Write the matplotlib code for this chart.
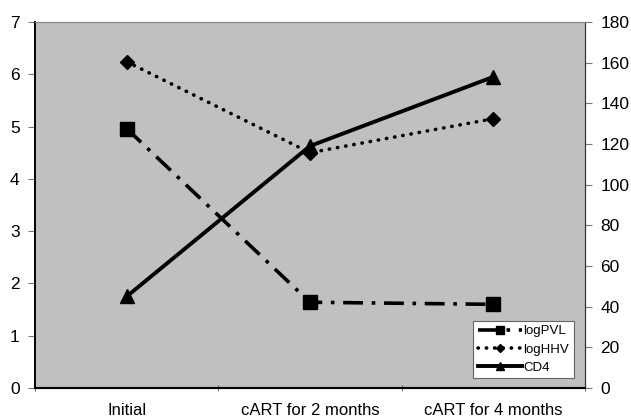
import matplotlib.pyplot as plt

plt.rcParams['font.family'] = ['Liberation Sans', 'DejaVu Sans']

categories = ['Initial', 'cART for 2 months', 'cART for 4 months']
log_pvl = [4.96, 1.64, 1.60]
log_hhv = [6.24, 4.50, 5.15]
cd4 = [45, 119, 153]

fig = plt.figure(figsize=(6.31, 4.18), dpi=100)
ax = fig.add_axes([0.0555, 0.0718, 0.8715, 0.8756])
ax.set_facecolor('#c0c0c0')
ax2 = ax.twinx()

x = range(len(categories))
l1, = ax.plot(x, log_pvl, color='black', lw=2.6, linestyle=(0, (5.5, 2.4, 1.0, 2.4)),
              marker='s', markersize=10, label='logPVL')
l2, = ax.plot(x, log_hhv, color='black', lw=2.6, linestyle=(0, (0.1, 2.2)),
              dash_capstyle='round', marker='D', markersize=7.5, label='logHHV')
l3, = ax2.plot(x, cd4, color='black', lw=2.8, marker='^', markersize=10,
               label='CD4')

ax.set_xlim(-0.5, 2.5)
ax.set_ylim(0, 7)
ax2.set_ylim(0, 180)
ax.set_yticks(range(0, 8))
ax2.set_yticks(range(0, 181, 20))

ax.set_xticks(list(x))
ax.set_xticklabels(categories, fontsize=12)
ax.tick_params(axis='x', which='major', length=0, pad=11)
ax.set_xticks([-0.5, 0.5, 1.5, 2.5], minor=True)
ax.tick_params(axis='x', which='minor', length=5, direction='inout', color='#555555')
ax.tick_params(axis='y', labelsize=12.5, length=5, color='#777777', pad=6)
ax2.tick_params(axis='y', labelsize=12.5, length=5, color='#777777', pad=6)

for a in (ax, ax2):
    a.spines['top'].set_color('#888888')
    a.spines['left'].set_color('black')
    a.spines['left'].set_linewidth(1.2)
    a.spines['bottom'].set_color('black')
    a.spines['bottom'].set_linewidth(1.5)
    a.spines['right'].set_color('#333333')

leg = ax2.legend(handles=[l1, l2, l3], loc='lower right', bbox_to_anchor=(0.992, 0.008),
                 fontsize=9.5, numpoints=1, handlelength=3.3, handletextpad=0.15,
                 borderpad=0.35, labelspacing=0.45, fancybox=False, framealpha=1,
                 edgecolor='#666666', markerscale=0.6)
leg.get_frame().set_linewidth(0.8)

fig.savefig('out.png', dpi=100)
